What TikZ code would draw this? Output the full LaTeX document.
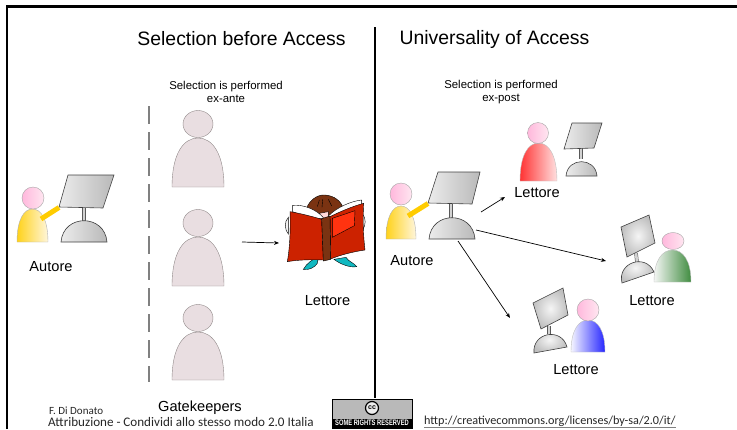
\documentclass[tikz,border=0pt]{standalone}
\usepackage{fontspec}
\setmainfont{Liberation Sans}
\newfontfamily\gillfont{Carlito}
\usetikzlibrary{arrows.meta,calc}
\definecolor{gatefill}{HTML}{E9DEE1}
\definecolor{gateline}{HTML}{8F8787}
\definecolor{bookred}{HTML}{CC2200}
\definecolor{brightred}{HTML}{FF3310}
\definecolor{hairbrown}{HTML}{7A3312}
\definecolor{headpink}{HTML}{FFB8DC}
\definecolor{headlight}{HTML}{FFE6F1}
\definecolor{gold}{HTML}{FFD21A}
\definecolor{goldlight}{HTML}{FFF6DC}
\definecolor{armgold}{HTML}{FFCC00}
\definecolor{turquoise}{HTML}{10B8C0}
\tikzset{
  titletext/.style={font=\fontsize{19.4}{21}\selectfont},
  smalltext/.style={font=\fontsize{11.4}{13}\selectfont,align=center},
  nametext/.style={font=\fontsize{14.6}{16}\selectfont},
  foottext/.style={font=\gillfont\fontsize{13.1}{14}\selectfont,text=black!85},
  flow/.style={line width=0.7pt,-{Stealth[length=5pt,width=4pt]}},
  pinkhead/.style={draw=gray!70,left color=headpink,right color=headlight},
  goldbody/.style={draw=gray!60,left color=gold,right color=goldlight},
  flatscreen/.style={left color=gray!15,right color=gray!55},
  roundscreen/.style={inner color=gray!8,outer color=gray!50},
}
% head centre, rx, ry, left, right, top, bottom, head style, body style
\newcommand{\person}[9]{
  \draw[#9] (#4,#7) .. controls (#4,{#6+0.32*(#7-#6)}) and ({#4+0.22*(#5-#4)},#6) .. ({0.5*(#4+#5)},#6)
    .. controls ({#5-0.22*(#5-#4)},#6) and (#5,{#6+0.32*(#7-#6)}) .. (#5,#7) -- cycle;
  \draw[#8] #1 ellipse ({#2} and {#3});
}
% screen corners, stem ends, base ends, shading
\newcommand{\monitor}[9]{
  \draw[draw=black!65,line width=0.5pt,double=gray!35,double distance=2.6pt] #5 -- #6;
  \draw[draw=black!75,line width=0.6pt,#9] #7 .. controls ($#7!0.05!#8!0.65!90:#8$) and ($#7!0.95!#8!0.65!-90:#7$) .. #8 -- cycle;
  \draw[draw=black!75,line width=0.6pt,#9] #1 -- #2 -- #3 -- #4 -- cycle;
}
\begin{document}
\begin{tikzpicture}[x=1pt,y=-1pt]
\useasboundingbox (0,0) rectangle (737,429);
% frame and divider
\draw[line width=2.2pt] (7,429) -- (7,6.5) -- (737,6.5);
\draw[line width=2pt] (375,27) -- (375,398);
\draw[gray,line width=2pt,dash pattern=on 18pt off 8pt] (149,106) -- (149,382);
% titles
\node[titletext] (titleleft) at (241.5,39) {Selection before Access};
\node[titletext] (titleright) at (494.5,39) {Universality of Access};
\node[smalltext] (exante) at (226,92) {Selection is performed\\ex-ante};
\node[smalltext] (expost) at (501,92) {Selection is performed\\ex-post};
% author, left
\person{(33,198)}{11}{11}{17}{48}{209}{242}{pinkhead}{goldbody}
\monitor{(68,175)}{(114,175)}{(103,208)}{(59,207)}{(84,208)}{(84,221)}{(61,242)}{(107,242)}{flatscreen}
\draw[armgold,line width=5pt] (59,207.5) -- (41,219);
\node[nametext] (autoreleft) at (51,267) {Autore};
% gatekeepers
\foreach \head/\top/\low in {124/138/187,223/237/286,318/332/380}{
  \person{(198,\head)}{15}{13.5}{172}{224}{\top}{\low}{draw=gateline,fill=gatefill}{draw=gateline,fill=gatefill}
}
\node[font=\fontsize{14.6}{16}\selectfont] (gatekeepers) at (200,408) {Gatekeepers};
% reader with book
\begin{scope}[shift={(260,180)},scale=1/3]
  \fill[turquoise,draw=black] (130,268) .. controls (140,250) and (160,235) .. (175,232) -- (172,250) .. controls (165,262) and (145,272) .. (130,268) -- cycle;
  \fill[turquoise,draw=black] (222,238) -- (258,232) .. controls (265,245) and (285,250) .. (290,260) .. controls (270,264) and (240,252) .. (222,238) -- cycle;
  \fill[gray!10,draw=black] (85,112) .. controls (72,125) and (74,150) .. (85,162) -- cycle;
  \fill[gray!10,draw=black] (308,102) .. controls (318,115) and (318,135) .. (308,150) -- cycle;
  \fill[hairbrown,draw=black] (136,100) .. controls (141,62) and (172,43) .. (195,45) .. controls (222,47) and (244,62) .. (252,90) -- (190,115) -- cycle;
  \fill[pink!60,draw=black] (178,100) -- (205,95) -- (205,112) -- (185,118) -- cycle;
  \draw[black,line width=0.4pt] (172,80) -- (178,60) (186,82) -- (188,58) (205,58) -- (215,78);
  \fill[white,draw=black] (98,76) .. controls (130,73) and (170,88) .. (192,115) -- (150,118) -- (98,95) -- cycle;
  \fill[white,draw=black] (205,108) .. controls (230,83) and (270,64) .. (305,60) -- (305,75) -- (215,115) -- cycle;
  \fill[bookred,draw=black] (90,95) .. controls (120,100) and (160,110) .. (185,118) -- (190,240) .. controls (150,238) and (110,240) .. (82,245) .. controls (90,200) and (92,140) .. (90,95) -- cycle;
  \fill[bookred,draw=black] (210,110) .. controls (240,95) and (280,78) .. (311,70) .. controls (308,120) and (310,170) .. (315,210) .. controls (280,215) and (240,225) .. (212,237) -- cycle;
  \fill[hairbrown,draw=black] (185,116) -- (210,108) -- (212,238) -- (190,243) -- cycle;
  \fill[brightred,draw=black] (217,115) -- (285,92) -- (283,137) -- (217,172) -- cycle;
\end{scope}
\node[nametext] (lettoremid) at (327.5,301) {Lettore};
% author, right
\person{(401,194)}{11}{11}{386}{416}{206}{239}{pinkhead}{goldbody}
\monitor{(438,172)}{(480,172)}{(472,204)}{(428,203)}{(451,204)}{(451,218)}{(429,239)}{(475,239)}{flatscreen}
\draw[armgold,line width=5pt] (428,203.5) -- (408,216);
\node[nametext] (autoreright) at (412,261) {Autore};
% three readers
\person{(538,133)}{10.5}{10.5}{520}{557}{143}{181}{pinkhead}{draw=gray!50,left color=red!80,right color=red!12}
\monitor{(572,123)}{(602,123)}{(594,148)}{(564,149)}{(581,148)}{(581,159)}{(566,176)}{(597,176)}{flatscreen}
\node[nametext] (lettoretop) at (537,193) {Lettore};
\person{(673,241)}{11}{8.5}{654}{691}{250}{282}{pinkhead}{draw=gray!50,left color=green!10!gray!8,right color=green!40!black!75}
\monitor{(621,227)}{(649,215)}{(655,243)}{(627,257)}{(636,253)}{(637,262)}{(622,283)}{(654,272)}{roundscreen}
\node[nametext] (lettoreright) at (652,301) {Lettore};
\person{(588,310)}{11}{11}{571}{605}{320}{352}{pinkhead}{draw=gray!50,left color=blue!4,right color=blue!85}
\monitor{(533,303)}{(563,288)}{(568,315)}{(541,329)}{(549,326)}{(549,334)}{(534,353)}{(567,347)}{roundscreen}
\node[nametext] (lettorelow) at (576,370) {Lettore};
% arrows
\coordinate (bookin) at (279,243);
\coordinate (gateout) at (242,242);
\coordinate (termtop) at (481,212);
\coordinate (termmid) at (476,230);
\coordinate (termlow) at (458,241);
\coordinate (readertop) at (505,197);
\coordinate (readermid) at (606,261);
\coordinate (readerlow) at (510,318);
\draw[flow] (gateout) -- (bookin);
\draw[flow] (termtop) -- (readertop);
\draw[flow] (termmid) -- (readermid);
\draw[flow] (termlow) -- (readerlow);
% footer
\node[foottext,font=\gillfont\fontsize{11}{12}\selectfont,anchor=west,inner sep=0pt] (signature) at (49,410.5) {F. Di Donato};
\node[foottext,anchor=west,inner sep=0pt] (licence) at (48,421.5) {Attribuzione - Condividi allo stesso modo 2.0 Italia};
\node[foottext,font=\gillfont\fontsize{12.2}{14}\selectfont,anchor=west,inner sep=0pt] (licenceurl) at (424,421.5) {http://creativecommons.org/licenses/by-sa/2.0/it/};
\draw[gray,line width=0.8pt] (licenceurl.south west) -- (licenceurl.south east);
% cc badge
\draw[black,fill=gray!55,line width=0.8pt] (332,399) rectangle (412,428);
\fill[black] (332.5,418.5) rectangle (411.5,427.5);
\draw[black,fill=white!85!gray,line width=1.2pt] (372,408) circle (6.5);
\node[font=\fontsize{7}{8}\bfseries\selectfont,inner sep=0pt] (ccmark) at (372,408) {cc};
\node[text=white,font=\fontsize{8}{9}\bfseries\selectfont,inner sep=0pt] (rights) at (372,423) {\scalebox{0.72}[1]{SOME RIGHTS RESERVED}};
\end{tikzpicture}
\end{document}
